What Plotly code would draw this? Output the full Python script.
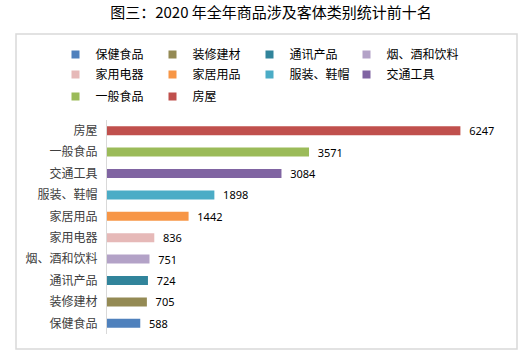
import plotly.graph_objects as go

categories = ["保健食品", "装修建材", "通讯产品", "烟、酒和饮料", "家用电器",
              "家居用品", "服装、鞋帽", "交通工具", "一般食品", "房屋"]
values = [588, 705, 724, 751, 836, 1442, 1898, 3084, 3571, 6247]
colors = ["#4F81BD", "#948A54", "#31849B", "#B3A2C7", "#E6B9B8",
          "#F79646", "#4BACC6", "#8064A2", "#9BBB59", "#C0504D"]

W, H = 532, 363
L, T = 107, 120
R = W - 503
B = H - 334
pw, ph = W - L - R, H - T - B


def px(x):
    return (x - L) / pw


def py(y):
    return (H - B - y) / ph


# legend grid (4 columns, 3 rows)
col_marker_x = [76.5, 173.5, 270.5, 367.5]
row_center_y = [53, 73, 95]

fig = go.Figure()
legends = {}
for i, (c, v, col) in enumerate(zip(categories, values, colors)):
    fig.add_trace(go.Bar(
        y=[c], x=[v], orientation="h", name=c,
        marker=dict(color=col, line=dict(width=0)),
        text=[v], texttemplate="  %{x}", textposition="outside",
        constraintext="none",
        textfont=dict(size=11, color="#000000", family="Noto Sans, Noto Sans CJK SC"),
        cliponaxis=False, showlegend=False, hoverinfo="skip",
    ))
    lid = "legend" if i == 0 else f"legend{i + 1}"
    fig.add_trace(go.Scatter(
        x=[None], y=[None], mode="markers", name=c,
        marker=dict(symbol="square", size=8, color=col),
        showlegend=True, legend=lid,
    ))
    r, k = divmod(i, 4)
    legends[lid] = dict(
        orientation="v", xanchor="left", yanchor="top",
        x=px(col_marker_x[k] - 3 - 18), y=py(row_center_y[r] - 13),
        font=dict(size=12, color="#000000"), itemwidth=30,
        bgcolor="rgba(0,0,0,0)", borderwidth=0,
    )

fig.update_layout(
    width=W, height=H,
    margin=dict(l=L, r=R, t=T, b=B, autoexpand=False),
    paper_bgcolor="white", plot_bgcolor="white",
    barmode="overlay", bargap=0.58,
    font=dict(family="Noto Sans CJK SC", size=12, color="#404040"),
    title=dict(text="图三：2020 年全年商品涉及客体类别统计前十名",
               x=271 / W, xanchor="center", y=1 - 13 / H, yanchor="middle",
               font=dict(size=15, color="#000000", family="Noto Sans CJK SC")),
    xaxis=dict(range=[0, 7000], visible=False, fixedrange=True),
    yaxis=dict(categoryorder="array", categoryarray=categories,
               showline=True, linecolor="#D9D9D9", linewidth=1,
               ticks="", showgrid=False, zeroline=False,
               tickfont=dict(size=12, color="#404040"), ticklabelstandoff=6),
    shapes=[dict(type="rect", xref="paper", yref="paper",
                 x0=px(16), x1=px(517), y0=py(349), y1=py(34),
                 line=dict(color="#D9D9D9", width=1.5), fillcolor="rgba(0,0,0,0)",
                 layer="below")],
    **legends,
)

fig.write_html("out.html", config={"displayModeBar": False},
               post_script="document.body.style.margin='0px';")
